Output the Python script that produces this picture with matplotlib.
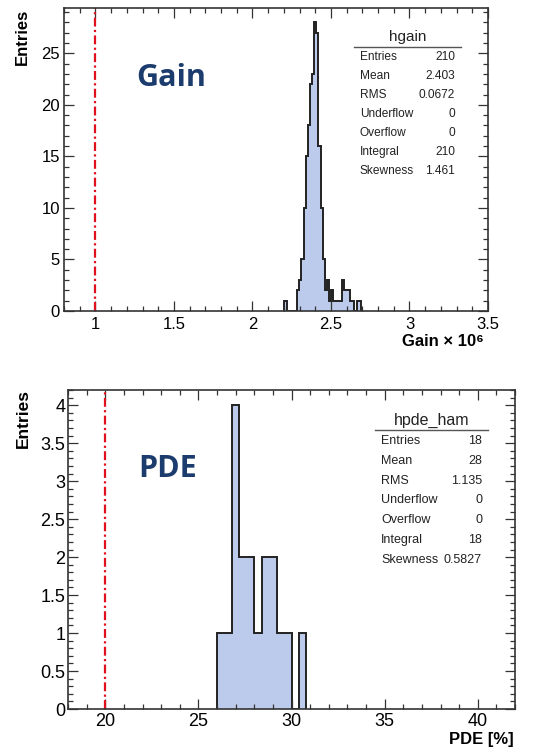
import numpy as np
import matplotlib
matplotlib.use("Agg")
import matplotlib.pyplot as plt
from matplotlib.ticker import MultipleLocator

plt.rcParams['font.family'] = ['Liberation Sans', 'DejaVu Sans']

# ---- data ----
# gain histogram (x 10^6), bins of 0.0135 starting at 2.204
gain_first_edge = 2.204
gain_bin_width = 0.0135
gain_counts = [1, 0, 0, 0, 0, 0, 2, 3, 5, 10, 15, 18, 22, 23, 28, 27, 16, 10,
               5, 2, 3, 1, 2, 1, 1, 1, 1, 3, 2, 2, 2, 1, 1, 0, 1, 1]
gain_ref = 1.0
gain_stats = [("Entries", "210"), ("Mean", "2.403"), ("RMS", "0.0672"),
              ("Underflow", "0"), ("Overflow", "0"), ("Integral", "210"),
              ("Skewness", "1.461")]

# PDE histogram (%), bins of 0.4 starting at 26
pde_first_edge = 26.0
pde_bin_width = 0.4
pde_counts = [1, 1, 4, 2, 2, 1, 2, 2, 1, 1, 0, 1]
pde_ref = 20.0
pde_stats = [("Entries", "18"), ("Mean", "28"), ("RMS", "1.135"),
             ("Underflow", "0"), ("Overflow", "0"), ("Integral", "18"),
             ("Skewness", "0.5827")]

W, H = 546, 749
fig = plt.figure(figsize=(W / 100, H / 100), dpi=100)


def fx(px):
    return px / W


def fy(py):
    return 1 - py / H


def axes_px(l, t, r, b):
    return fig.add_axes([fx(l), fy(b), fx(r) - fx(l), fy(t) - fy(b)])


fill_col = "#bccbeb"
edge_col = "#222222"
red = "#e0101c"
navy = "#1d3c6e"


def style(ax, xmaj, xmin, ymaj, ymin, fs, ypad, xpad):
    ax.xaxis.set_major_locator(MultipleLocator(xmaj))
    ax.xaxis.set_minor_locator(MultipleLocator(xmin))
    ax.yaxis.set_major_locator(MultipleLocator(ymaj))
    ax.yaxis.set_minor_locator(MultipleLocator(ymin))
    ax.tick_params(which="both", direction="in", top=True, right=True,
                   width=0.9, color="#333333")
    ax.tick_params(which="major", length=7.5, labelsize=fs)
    ax.tick_params(which="minor", length=3.8)
    ax.tick_params(axis="y", pad=ypad)
    ax.tick_params(axis="x", pad=xpad)
    for s in ax.spines.values():
        s.set_linewidth(1.2)
        s.set_color("#333333")
    ax.xaxis.set_major_formatter(plt.FuncFormatter(lambda v, p: "%g" % v))
    ax.yaxis.set_major_formatter(plt.FuncFormatter(lambda v, p: "%g" % v))


def draw_hist(ax, first, width, counts):
    edges = first + width * np.arange(len(counts) + 1)
    ax.stairs(counts, edges, fill=True, color=fill_col, lw=0)
    ax.stairs(counts, edges, baseline=0, fill=False, color=edge_col, lw=1.4)


def stats_box(title, rows, xl, xr, ytitle, yline, y0, dy, fs_t, fs):
    fig.text(fx((xl + xr) / 2), fy(ytitle), title, ha="center", va="center",
             fontsize=fs_t, color="#222222")
    fig.add_artist(plt.Line2D([fx(xl - 6), fx(xr + 6)], [fy(yline), fy(yline)],
                              color="#555555", lw=1.0))
    for i, (k, v) in enumerate(rows):
        y = fy(y0 + i * dy)
        fig.text(fx(xl), y, k, ha="left", va="center", fontsize=fs, color="#222222")
        fig.text(fx(xr), y, v, ha="right", va="center", fontsize=fs, color="#222222")


# ---- top: gain ----
ax1 = axes_px(64, 8, 488, 311)
draw_hist(ax1, gain_first_edge, gain_bin_width, gain_counts)
ax1.axvline(gain_ref, color=red, lw=1.6, ls=(0, (4, 1.5, 1, 1.5)))
ax1.set_xlim(0.8, 3.5)
ax1.set_ylim(0, 29.4)
style(ax1, 0.5, 0.1, 5, 1, 12, 3, 4)
fig.text(fx(136), fy(86), "Gain", fontsize=22, fontweight="bold", color=navy,
         family="Open Sans", ha="left", va="baseline")
fig.text(fx(22), fy(9), "Entries", rotation=90, ha="center", va="top",
         fontsize=12, fontweight="bold")
fig.text(fx(484), fy(342), "Gain × 10\u2076", ha="right", va="center",
         fontsize=12, fontweight="bold")
stats_box("hgain", gain_stats, 360, 455, 37, 47, 57, 19, 11, 8.6)

# ---- bottom: PDE ----
ax2 = axes_px(68, 390, 515, 709)
draw_hist(ax2, pde_first_edge, pde_bin_width, pde_counts)
ax2.axvline(pde_ref, color=red, lw=1.6, ls=(0, (4, 1.5, 1, 1.5)))
ax2.set_xlim(18, 42)
ax2.set_ylim(0, 4.2)
style(ax2, 5, 1, 0.5, 0.1, 13, 2, 3)
fig.text(fx(138), fy(477), "PDE", fontsize=22, fontweight="bold", color=navy,
         family="Open Sans", ha="left", va="baseline")
fig.text(fx(23), fy(389), "Entries", rotation=90, ha="center", va="top",
         fontsize=12.5, fontweight="bold")
fig.text(fx(514), fy(747), "PDE [%]", ha="right", va="bottom",
         fontsize=12, fontweight="bold")
stats_box("hpde_ham", pde_stats, 381, 482, 420, 430, 441, 19.8, 11.5, 9)

fig.savefig("out.png", dpi=100)
